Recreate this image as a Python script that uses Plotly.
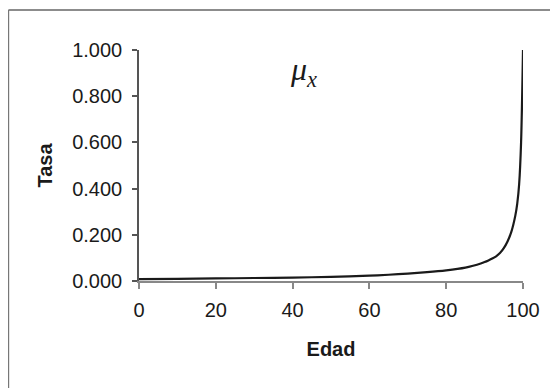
import plotly.graph_objects as go

# Data (force of mortality mu_x by age)
edad = [0, 10, 20, 30, 40, 50, 60, 65, 70, 75, 80, 85, 87, 89, 90, 91, 92, 93, 94, 95, 96, 97, 98, 98.5, 99, 99.5, 100]
tasa = [0.008, 0.009, 0.011, 0.013, 0.015, 0.018, 0.023, 0.027, 0.032, 0.038, 0.046, 0.058, 0.066, 0.076, 0.082,
        0.089, 0.097, 0.107, 0.121, 0.142, 0.172, 0.215, 0.283, 0.335, 0.420, 0.600, 1.000]

x_ticks = [0, 20, 40, 60, 80, 100]
y_ticks = [0.0, 0.2, 0.4, 0.6, 0.8, 1.0]
y_labels = ["0.000", "0.200", "0.400", "0.600", "0.800", "1.000"]

font_main = "Liberation Sans, Arial, sans-serif"

fig = go.Figure()
fig.add_trace(go.Scatter(
    x=edad, y=tasa, mode="lines",
    line=dict(color="#1a1a1a", width=2.2, shape="spline", smoothing=0.8),
    cliponaxis=False, showlegend=False, hoverinfo="skip"
))

# the page has an 8px body margin, so margins are shifted to compensate
fig.update_layout(
    width=558, height=388,
    margin=dict(l=131, r=43, t=42, b=115, autoexpand=False),
    paper_bgcolor="white", plot_bgcolor="white",
    font=dict(family=font_main, size=20, color="#1a1a1a"),
    xaxis=dict(
        range=[0, 100], tickvals=x_ticks, ticktext=[str(v) for v in x_ticks],
        showgrid=False, zeroline=False, automargin=False,
        showline=True, linecolor="#888888", linewidth=1.5,
        ticks="outside", ticklen=6, tickcolor="#888888", tickwidth=1.5,
        ticklabelstandoff=4,
        title=dict(text="<b>Edad</b>", font=dict(size=20), standoff=22),
    ),
    yaxis=dict(
        range=[0, 1], tickvals=y_ticks, ticktext=y_labels,
        showgrid=False, zeroline=False, automargin=False,
        showline=True, linecolor="#555555", linewidth=1.5,
        ticks="outside", ticklen=5, tickcolor="#555555", tickwidth=1.5,
        ticklabelstandoff=6,
        title=dict(text="<b>Tasa</b>", font=dict(size=20), standoff=14),
    ),
    annotations=[dict(
        text="<i>μ<sub>x</sub></i>", x=0.428, y=0.905, xref="paper", yref="paper",
        showarrow=False, font=dict(family="Liberation Serif, Times New Roman, serif", size=32, color="#1a1a1a"),
        xanchor="center", yanchor="middle"
    )],
    shapes=[
        dict(type="line", xref="paper", yref="paper", x0=-0.34, x1=1.2, y0=1.173, y1=1.173,
             line=dict(color="#666666", width=1.5)),
        dict(type="line", xref="paper", yref="paper", x0=-0.34, x1=-0.34, y0=1.173, y1=-0.6,
             line=dict(color="#777777", width=1.5)),
    ],
)

fig.write_html("out.html")
